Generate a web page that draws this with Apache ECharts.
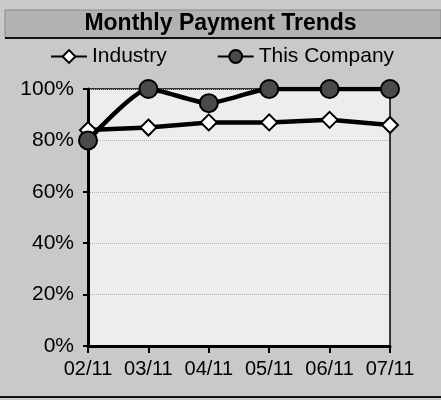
<!DOCTYPE html>
<html>
<head>
<meta charset="utf-8">
<script src="https://cdn.jsdelivr.net/npm/echarts@6/dist/echarts.min.js"></script>
<style>
  html, body { margin: 0; padding: 0; background: #c9c9c9; }
  #main { width: 441px; height: 400px; }
</style>
</head>
<body>
<div id="main"></div>
<script>
// months on the x axis
var months = ['02/11', '03/11', '04/11', '05/11', '06/11', '07/11'];
// percent values
var industry = [84, 85, 87, 87, 88, 86];
var company = [80, 100, 94.5, 100, 100, 100];

var chart = echarts.init(document.getElementById('main'));

var option = {
  backgroundColor: '#c9c9c9',
  animation: false,
  graphic: [
    {
      type: 'rect',
      shape: { x: 5, y: 10, width: 436, height: 28 },
      style: { fill: '#b2b2b2', stroke: '#8a8a8a', lineWidth: 1 },
      z: -1
    },
    {
      type: 'line',
      shape: { x1: 5, y1: 38, x2: 441, y2: 38 },
      style: { stroke: '#111', lineWidth: 2 },
      z: -1
    },
    {
      type: 'line',
      shape: { x1: 0, y1: 397, x2: 441, y2: 397 },
      style: { stroke: '#111', lineWidth: 2 },
      z: -1
    }
  ],
  title: {
    text: 'Monthly Payment Trends',
    left: 'center',
    top: 12,
    padding: 0,
    textStyle: {
      fontFamily: 'Liberation Sans',
      fontWeight: 'bold',
      fontSize: 23,
      color: '#000'
    }
  },
  legend: {
    top: 46,
    left: 50,
    padding: 0,
    itemGap: 50,
    itemWidth: 36,
    itemHeight: 16,
    textStyle: { fontFamily: 'Liberation Sans', fontSize: 21, color: '#000', padding: [0, 0, 0, 0] },
    data: ['Industry', 'This Company']
  },
  grid: {
    left: 88,
    right: 51,
    top: 89,
    bottom: 54,
    show: true,
    backgroundColor: '#ededed',
    borderColor: '#000',
    borderWidth: 1.5
  },
  xAxis: {
    type: 'category',
    data: months,
    boundaryGap: false,
    axisLine: { lineStyle: { color: '#000', width: 3 } },
    axisTick: { show: true, alignWithLabel: true, interval: 0, length: 7, lineStyle: { color: '#000', width: 2 } },
    axisLabel: { interval: 0, hideOverlap: false, fontFamily: 'Liberation Sans', fontSize: 20, color: '#000', margin: 13 },
    splitLine: { show: false }
  },
  yAxis: {
    type: 'value',
    min: 0,
    max: 100,
    interval: 20,
    axisLine: { show: true, lineStyle: { color: '#000', width: 3 } },
    axisTick: { show: true, length: 5, lineStyle: { color: '#000', width: 2 } },
    axisLabel: { fontFamily: 'Liberation Sans', fontSize: 21, color: '#000', margin: 14, formatter: '{value}%' },
    splitLine: { show: true, lineStyle: { color: '#b0b0b0', type: 'dotted', width: 1 } }
  },
  series: [
    {
      name: 'Industry',
      type: 'line',
      data: industry,
      symbol: 'diamond',
      symbolSize: 16,
      lineStyle: { color: '#000', width: 4.5 },
      itemStyle: { color: '#fff', borderColor: '#000', borderWidth: 2 },
      z: 2
    },
    {
      name: 'This Company',
      type: 'line',
      data: company,
      symbol: 'circle',
      symbolSize: 18,
      smooth: 0.2,
      lineStyle: { color: '#000', width: 4.5 },
      itemStyle: { color: '#4a4a4a', borderColor: '#000', borderWidth: 2 },
      z: 3
    }
  ]
};

chart.setOption(option);
</script>
</body>
</html>
